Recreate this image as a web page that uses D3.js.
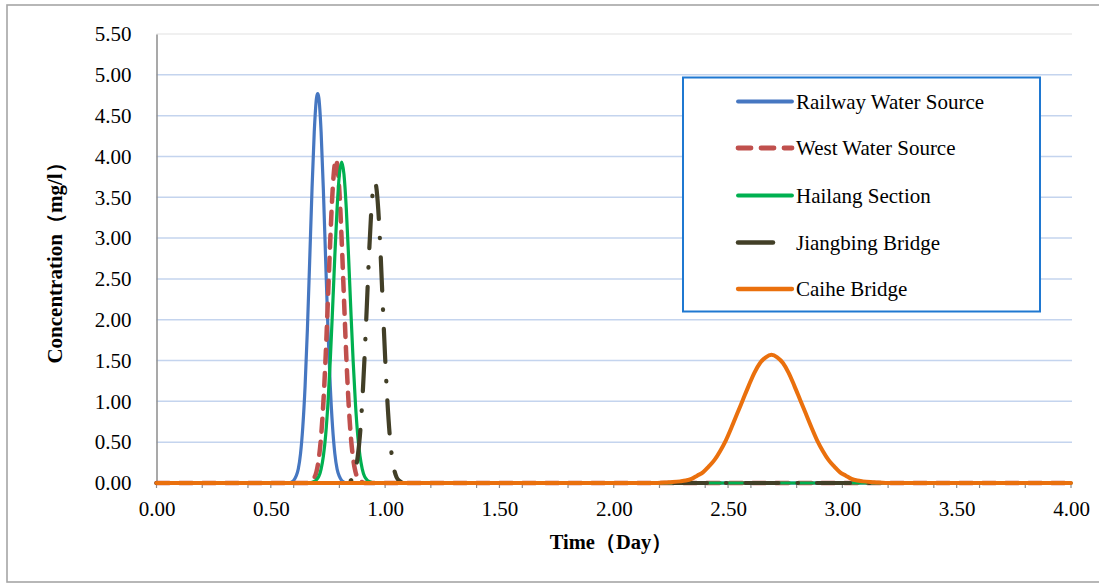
<!DOCTYPE html>
<html><head><meta charset="utf-8">
<script src="https://cdn.jsdelivr.net/npm/d3@7/dist/d3.min.js"></script>
<style>
body{margin:0;background:#fff}
svg{display:block}
text{font-family:"Liberation Serif","Times New Roman",serif;fill:#000}
</style>
</head><body>
<svg id="chart" width="1099" height="583"></svg>
<script>
// ---------------- data ----------------
const seriesNames = ["Railway Water Source","West Water Source","Hailang Section","Jiangbing Bridge","Caihe Bridge"];

const railwayT = [0, 0.58, 0.59, 0.60, 0.61, 0.62, 0.63, 0.64, 0.65, 0.66, 0.67, 0.68, 0.69, 0.70, 0.705, 0.71, 0.72, 0.73, 0.74, 0.75, 0.76, 0.77, 0.78, 0.79, 0.80, 0.81, 0.82, 0.83, 4];
const railwayC = [0, 0, 0.01, 0.03, 0.08, 0.17, 0.36, 0.69, 1.19, 1.88, 2.72, 3.58, 4.30, 4.72, 4.77, 4.72, 4.30, 3.58, 2.72, 1.88, 1.19, 0.69, 0.36, 0.17, 0.08, 0.03, 0.01, 0, 0];

const westT = [0, 0.66, 0.67, 0.68, 0.69, 0.70, 0.71, 0.72, 0.73, 0.74, 0.75, 0.76, 0.77, 0.78, 0.785, 0.79, 0.80, 0.81, 0.82, 0.83, 0.84, 0.85, 0.86, 0.87, 0.88, 0.89, 0.90, 0.91, 4];
const westC = [0, 0, 0.01, 0.02, 0.06, 0.14, 0.30, 0.57, 0.99, 1.56, 2.26, 2.97, 3.57, 3.91, 3.96, 3.91, 3.57, 2.97, 2.26, 1.56, 0.99, 0.57, 0.30, 0.14, 0.06, 0.02, 0.01, 0, 0];

const hailangT = [0, 0.67, 0.68, 0.69, 0.70, 0.71, 0.72, 0.73, 0.74, 0.75, 0.76, 0.77, 0.78, 0.79, 0.80, 0.81, 0.82, 0.83, 0.84, 0.85, 0.86, 0.87, 0.88, 0.89, 0.90, 0.91, 0.92, 0.93, 0.94, 0.95, 4];
const hailangC = [0, 0, 0.01, 0.02, 0.04, 0.08, 0.17, 0.33, 0.59, 0.98, 1.50, 2.12, 2.78, 3.37, 3.78, 3.93, 3.78, 3.37, 2.78, 2.12, 1.50, 0.98, 0.59, 0.33, 0.17, 0.08, 0.04, 0.02, 0.01, 0, 0];

const jiangbingT = [0, 0.83, 0.84, 0.85, 0.86, 0.87, 0.88, 0.89, 0.90, 0.91, 0.92, 0.93, 0.94, 0.95, 0.955, 0.96, 0.97, 0.98, 0.99, 1.00, 1.01, 1.02, 1.03, 1.04, 1.05, 1.06, 1.07, 1.08, 4];
const jiangbingC = [0, 0, 0.01, 0.03, 0.07, 0.16, 0.32, 0.59, 1.00, 1.54, 2.17, 2.82, 3.35, 3.65, 3.69, 3.65, 3.35, 2.82, 2.17, 1.54, 1.00, 0.59, 0.32, 0.16, 0.07, 0.03, 0.01, 0, 0];

const caiheT = [0, 2.19, 2.24, 2.29, 2.315, 2.34, 2.365, 2.39, 2.415, 2.44, 2.465, 2.49, 2.515, 2.54, 2.565, 2.59, 2.615, 2.64, 2.665, 2.69, 2.715, 2.74, 2.765, 2.79, 2.815, 2.84, 2.865, 2.89, 2.915, 2.94, 2.965, 2.99, 3.015, 3.04, 3.065, 3.09, 3.14, 3.19, 4];
const caiheC = [0, 0, 0.01, 0.02, 0.03, 0.05, 0.09, 0.13, 0.20, 0.28, 0.39, 0.52, 0.68, 0.85, 1.02, 1.19, 1.35, 1.47, 1.54, 1.57, 1.54, 1.47, 1.35, 1.19, 1.02, 0.85, 0.68, 0.52, 0.39, 0.28, 0.20, 0.13, 0.09, 0.05, 0.03, 0.02, 0.01, 0, 0];

const yTicks = [0, 0.5, 1.0, 1.5, 2.0, 2.5, 3.0, 3.5, 4.0, 4.5, 5.0, 5.5];
const xTicks = [0, 0.5, 1.0, 1.5, 2.0, 2.5, 3.0, 3.5, 4.0];
const xMinorTicks = [0, 0.2, 0.4, 0.5, 0.6, 0.8, 1.0, 1.2, 1.4, 1.5, 1.6, 1.8, 2.0, 2.2, 2.4, 2.5, 2.6, 2.8, 3.0, 3.2, 3.4, 3.5, 3.6, 3.8, 4.0];

const xTitle = "Time（Day）";
const yTitle = "Concentration（mg/l）";

// ---------------- styles ----------------
const styles = [
  {color:"#4677c1", width:3.2, dash:null,           cap:"round"},
  {color:"#c0504d", width:4.5, dash:"13 10",        cap:"round"},
  {color:"#00b050", width:3.2, dash:null,           cap:"round"},
  {color:"#423f27", width:4.2, dash:"33 19 0.5 19", cap:"round"},
  {color:"#ea700d", width:4,   dash:null,           cap:"round"}
];

const seriesData = [
  d3.zip(railwayT, railwayC),
  d3.zip(westT, westC),
  d3.zip(hailangT, hailangC),
  d3.zip(jiangbingT, jiangbingC),
  d3.zip(caiheT, caiheC)
];

// ---------------- chart ----------------
const svg = d3.select("#chart");
const FONT = "'Liberation Serif','Times New Roman',serif";

svg.append("rect").attr("x",7).attr("y",5).attr("width",1100).attr("height",577)
  .attr("fill","#fff").attr("stroke","#a6a6a6").attr("stroke-width",1.6);

const x = d3.scaleLinear().domain([0,4]).range([156.5,1071]);
const y = d3.scaleLinear().domain([0,5.5]).range([483,34]);

// gridlines
svg.append("g").selectAll("line").data(yTicks.filter(v=>v>0)).join("line")
  .attr("x1",x(0)).attr("x2",x(4)+1)
  .attr("y1",d=>y(d)).attr("y2",d=>y(d))
  .attr("stroke",d=>d===5.5?"#ebebeb":"#c4d4ee").attr("stroke-width",1.5);

// y axis
const yAxis = d3.axisLeft(y).tickValues(yTicks).tickSize(0).tickPadding(25).tickFormat(d3.format(".2f"));
const gy = svg.append("g").attr("transform",`translate(${x(0)},0)`).call(yAxis)
  .attr("font-family",FONT).attr("font-size",21);
gy.select(".domain").attr("stroke","#8c8c8c").attr("stroke-width",1.5);

// x axis
const xAxis = d3.axisBottom(x).tickValues(xTicks).tickSize(0).tickPadding(18).tickFormat(d3.format(".2f"));
const gx = svg.append("g").attr("transform",`translate(0,${y(0)})`).call(xAxis)
  .attr("font-family",FONT).attr("font-size",21);
gx.select(".domain").attr("stroke","#8c8c8c").attr("stroke-width",1.5);

// x minor tick marks
svg.append("g").selectAll("line").data(xMinorTicks).join("line")
  .attr("x1",d=>x(d)).attr("x2",d=>x(d))
  .attr("y1",y(0)).attr("y2",y(0)+5)
  .attr("stroke","#8c8c8c").attr("stroke-width",1.2);

// series
const line = d3.line().x(d=>x(d[0])).y(d=>y(d[1])).curve(d3.curveMonotoneX);
seriesData.forEach((data,i)=>{
  const s = styles[i];
  svg.append("path").datum(data)
    .attr("d",line)
    .attr("fill","none")
    .attr("stroke",s.color)
    .attr("stroke-width",s.width)
    .attr("stroke-linecap",s.cap)
    .attr("stroke-linejoin","round")
    .attr("stroke-dasharray",s.dash);
});

// axis titles
svg.append("text").attr("x",611).attr("y",549).attr("text-anchor","middle")
  .attr("font-size",20.5).attr("font-weight","bold").text(xTitle);
svg.append("text").attr("transform","translate(62,258) rotate(-90)").attr("text-anchor","middle")
  .attr("font-size",21).attr("font-weight","bold").text(yTitle);

// legend
const lg = svg.append("g");
lg.append("rect").attr("x",683).attr("y",77.5).attr("width",357).attr("height",234)
  .attr("fill","#fff").attr("stroke","#1f78d1").attr("stroke-width",2);
const rowY = [101.5, 148, 195.5, 242.5, 289];
seriesNames.forEach((name,i)=>{
  const s = styles[i];
  const x2 = i===3 ? 773 : 792;
  lg.append("line").attr("x1",738).attr("x2",x2).attr("y1",rowY[i]).attr("y2",rowY[i])
    .attr("stroke",s.color).attr("stroke-width",Math.max(s.width,3.5)+0.3)
    .attr("stroke-linecap",s.cap).attr("stroke-dasharray", i===1 ? s.dash : null);
  lg.append("text").attr("x",796).attr("y",rowY[i]).attr("dy","0.35em")
    .attr("font-size",21).text(name);
});
</script>
</body></html>
